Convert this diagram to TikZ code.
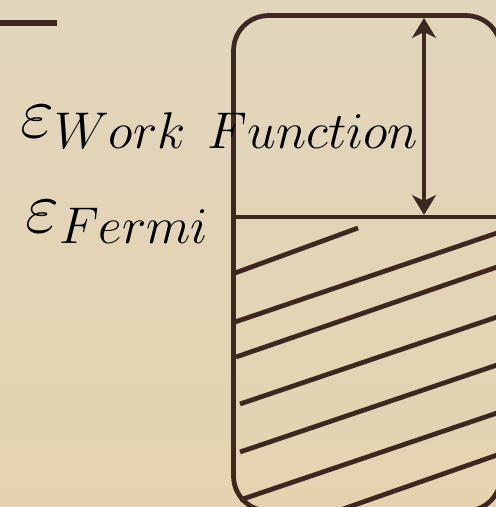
\RequirePackage{fix-cm}
\documentclass[tikz,border=0pt]{standalone}
\usepackage{amsmath,amssymb}
\usepackage{xcolor}
\usetikzlibrary{positioning,arrows.meta,calc}
\definecolor{inkbrown}{HTML}{3F2721}
\definecolor{parchtop}{HTML}{E1D5BC}
\definecolor{parchbot}{HTML}{E5D3B0}
\begin{document}
\begin{tikzpicture}[x=0.02cm, y=-0.02cm,
    ink/.style={draw=inkbrown, line width=2.7pt},
    lvl/.style={font=\fontsize{42}{50}\selectfont, inner sep=0pt, anchor=base west},
    dimline/.style={ink, {Stealth[length=4mm,width=4.8mm,inset=1.2mm]}-{Stealth[length=4mm,width=4.8mm,inset=1.2mm]}}]
\useasboundingbox (0,0) rectangle (496,507);
\shade[top color=parchtop, bottom color=parchbot] (0,0) rectangle (496,507);
% vacuum level stub
\coordinate (vacL) at (0,23);
\coordinate (vacR) at (57,23);
\draw[ink, line width=3pt] (vacL) -- (vacR);
% the metal
\node[ink, rounded corners=0.7cm, minimum width=5.35cm, minimum height=9.91cm,
      inner sep=0pt] (band) at (367.25,263.25) {};
\coordinate (fermiL) at (234,217);
\coordinate (fermiR) at (500,217);
\draw[ink] (fermiL) -- (fermiR);
\coordinate (wtop) at (424,18);
\coordinate (wbot) at (424,215);
\draw[dimline] (wtop) -- (wbot);
% filled states
\foreach \xa/\ya/\xb/\yb in {235/273/358/228, 235/322/500/232, 236/357/500/266,
    240/404/500/316, 240/452/500/364, 240/500/500/412, 343/509/500/454}
  \draw[ink] (\xa,\ya) -- (\xb,\yb);
% labels
\node[lvl] (wf) at (20,137) {$\varepsilon_{Work\ Function}$};
\node[lvl] (ef) at (25,232) {$\varepsilon_{Fermi}$};
\end{tikzpicture}
\end{document}
